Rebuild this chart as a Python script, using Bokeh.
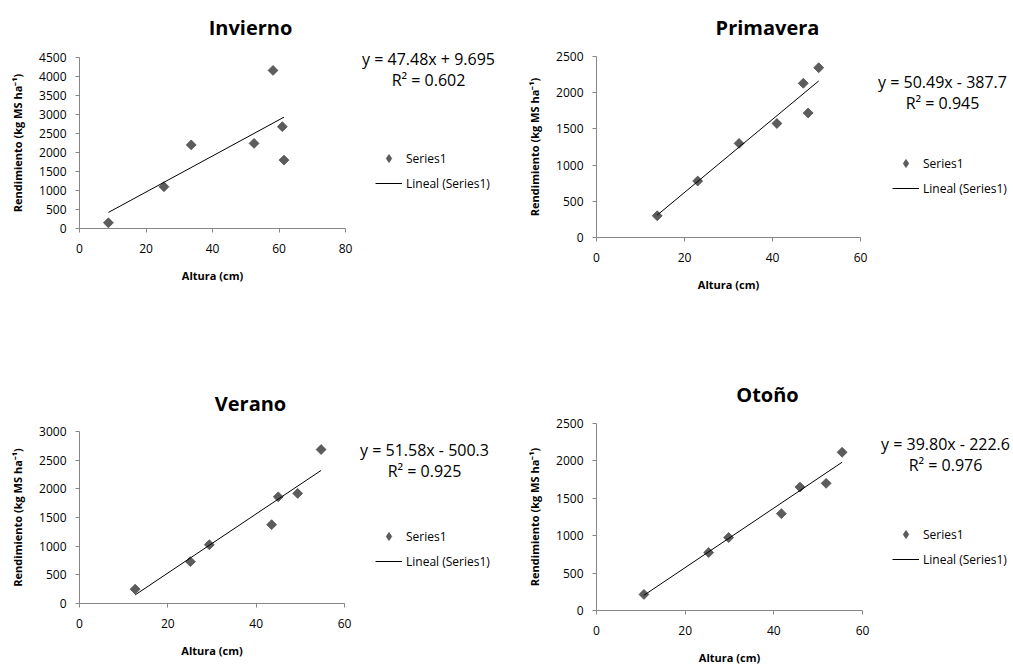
import math
from bokeh.plotting import figure
from bokeh.models import Range1d, FixedTicker, Label, Legend, LegendItem
from bokeh.layouts import column, row
from bokeh.embed import file_html
from bokeh.resources import INLINE

# ---------------- data ----------------
titles = ["Invierno", "Primavera", "Verano", "Otoño"]

invierno_x = [8.7, 25.4, 33.6, 52.5, 58.2, 61.0, 61.5]
invierno_y = [150, 1100, 2200, 2240, 4160, 2680, 1800]

primavera_x = [13.8, 23.0, 32.4, 41.0, 47.0, 48.1, 50.5]
primavera_y = [300, 780, 1300, 1575, 2130, 1720, 2345]

verano_x = [12.6, 25.1, 29.4, 43.5, 45.0, 49.4, 54.7]
verano_y = [250, 730, 1025, 1375, 1860, 1920, 2685]

otono_x = [10.7, 25.3, 29.8, 41.7, 45.9, 51.8, 55.4]
otono_y = [215, 775, 975, 1295, 1650, 1700, 2115]

slopes = [47.48, 50.49, 51.58, 39.80]
intercepts = [9.695, -387.7, -500.3, -222.6]
equations = ["y = 47.48x + 9.695", "y = 50.49x - 387.7", "y = 51.58x - 500.3", "y = 39.80x - 222.6"]
r2_texts = ["R² = 0.602", "R² = 0.945", "R² = 0.925", "R² = 0.976"]

x_ticks = [[0, 20, 40, 60, 80], [0, 20, 40, 60], [0, 20, 40, 60], [0, 20, 40, 60]]
y_ticks = [[0, 500, 1000, 1500, 2000, 2500, 3000, 3500, 4000, 4500],
           [0, 500, 1000, 1500, 2000, 2500],
           [0, 500, 1000, 1500, 2000, 2500, 3000],
           [0, 500, 1000, 1500, 2000, 2500]]

x_label = "Altura (cm)"
y_label = "Rendimiento (kg MS ha⁻¹)"
series_label = "Series1"
trend_label = "Lineal (Series1)"

xs_all = [invierno_x, primavera_x, verano_x, otono_x]
ys_all = [invierno_y, primavera_y, verano_y, otono_y]

# ---------------- layout (page pixels) ----------------
# origin, size, axes box (L, T, R, B), title centre, equation centre (x, y1, y2), legend (glyph left, first row centre)
layout = [
    dict(o=(0, 0), s=(506, 380), f=(79, 57, 345, 228), t=(250, 27), e=(428, 58, 79), lg=(375, 158)),
    dict(o=(506, 0), s=(507, 380), f=(596, 56, 860, 237), t=(767, 27), e=(942, 81, 102), lg=(892, 163)),
    dict(o=(0, 380), s=(506, 284), f=(79, 431, 344, 603), t=(250, 403), e=(424, 449, 470), lg=(375, 536)),
    dict(o=(506, 380), s=(507, 284), f=(596, 423, 862, 610), t=(767, 394), e=(945, 443, 464), lg=(892, 534)),
]

FONT = "Open Sans"
AXIS_COLOR = "#868686"
MARK_COLOR = "#5C5C5C"


figs = []
for i in range(4):
    lay = layout[i]
    ox, oy = lay["o"]
    w, h = lay["s"]
    L, T, R, B = lay["f"]
    Lf, Rf, Tf, Bf = L - ox, R - ox, T - oy, B - oy
    xmax = x_ticks[i][-1]
    ymax = y_ticks[i][-1]
    kx = xmax / (Rf - Lf)
    ky = ymax / (Bf - Tf)
    p = figure(width=w, height=h, output_backend="svg", toolbar_location=None,
               x_range=Range1d(-Lf * kx, (w - Lf) * kx),
               y_range=Range1d(-(h - Bf) * ky, Bf * ky),
               min_border_left=0, min_border_right=0, min_border_top=0, min_border_bottom=0)
    p.outline_line_color = None
    p.grid.visible = False
    p.background_fill_color = "white"
    p.border_fill_color = "white"

    for ax, ticks in ((p.xaxis[0], x_ticks[i]), (p.yaxis[0], y_ticks[i])):
        ax.ticker = FixedTicker(ticks=ticks)
        ax.bounds = (ticks[0], ticks[-1])
        ax.fixed_location = 0
        ax.axis_line_color = AXIS_COLOR
        ax.major_tick_line_color = AXIS_COLOR
        ax.major_tick_out = 4
        ax.major_tick_in = 0
        ax.minor_tick_line_color = None
        ax.major_label_text_font = FONT
        ax.major_label_text_font_size = "12px"
        ax.major_label_text_color = "#000000"
        ax.axis_label_text_font = FONT
        ax.axis_label_text_font_size = "11px"
        ax.axis_label_text_font_style = "bold"
        ax.axis_label_text_color = "#000000"
    p.xaxis[0].axis_label = x_label
    p.yaxis[0].axis_label = y_label
    p.xaxis[0].major_label_standoff = 11
    p.yaxis[0].major_label_standoff = 9
    p.xaxis[0].axis_label_standoff = 12
    p.yaxis[0].axis_label_standoff = 11

    xs = xs_all[i]
    ys = ys_all[i]
    p.scatter(xs, ys, marker="square", angle=math.pi / 4, size=7,
              fill_color=MARK_COLOR, line_color="#4F4F4F", line_width=0.8)
    # same series, diamond glyph, only used for the legend sample
    r_leg = p.scatter(xs, ys, marker="diamond", size=8, visible=False,
                      fill_color=MARK_COLOR, line_color="#4F4F4F", line_width=0.8)
    x0, x1 = min(xs), max(xs)
    r_ln = p.line([x0, x1], [slopes[i] * x0 + intercepts[i], slopes[i] * x1 + intercepts[i]],
                  line_color="black", line_width=1)

    def add_text(X, Y, text, size, bold=False):
        p.add_layout(Label(x=X - ox, y=(oy + h) - Y, x_units="screen", y_units="screen",
                           text=text, text_font=FONT, text_font_size=size,
                           text_font_style="bold" if bold else "normal",
                           text_align="center", text_baseline="middle",
                           text_color="#000000"))

    add_text(lay["t"][0], lay["t"][1], titles[i], "20px", bold=True)
    ex, ey1, ey2 = lay["e"]
    add_text(ex, ey1, equations[i], "16px")
    add_text(ex, ey2, r2_texts[i], "16px")

    # legend
    gx, gy = lay["lg"]
    item_h = 20
    spacing = 5
    top = gy - item_h / 2
    bottom = top + 2 * item_h + spacing
    legend = Legend(items=[LegendItem(label=series_label, renderers=[r_leg]),
                           LegendItem(label=trend_label, renderers=[r_ln])],
                    location=(gx - ox, (oy + h) - bottom), padding=0, margin=0, spacing=spacing,
                    glyph_width=27, glyph_height=item_h, label_height=item_h,
                    label_standoff=4, label_text_font=FONT, label_text_font_size="12px",
                    label_text_color="#000000",
                    inactive_fill_alpha=0,
                    border_line_color=None, background_fill_alpha=0)
    p.add_layout(legend)
    figs.append(p)

root = column(row(figs[0], figs[1]), row(figs[2], figs[3]))
open("out.html", "w").write(file_html(root, INLINE))
